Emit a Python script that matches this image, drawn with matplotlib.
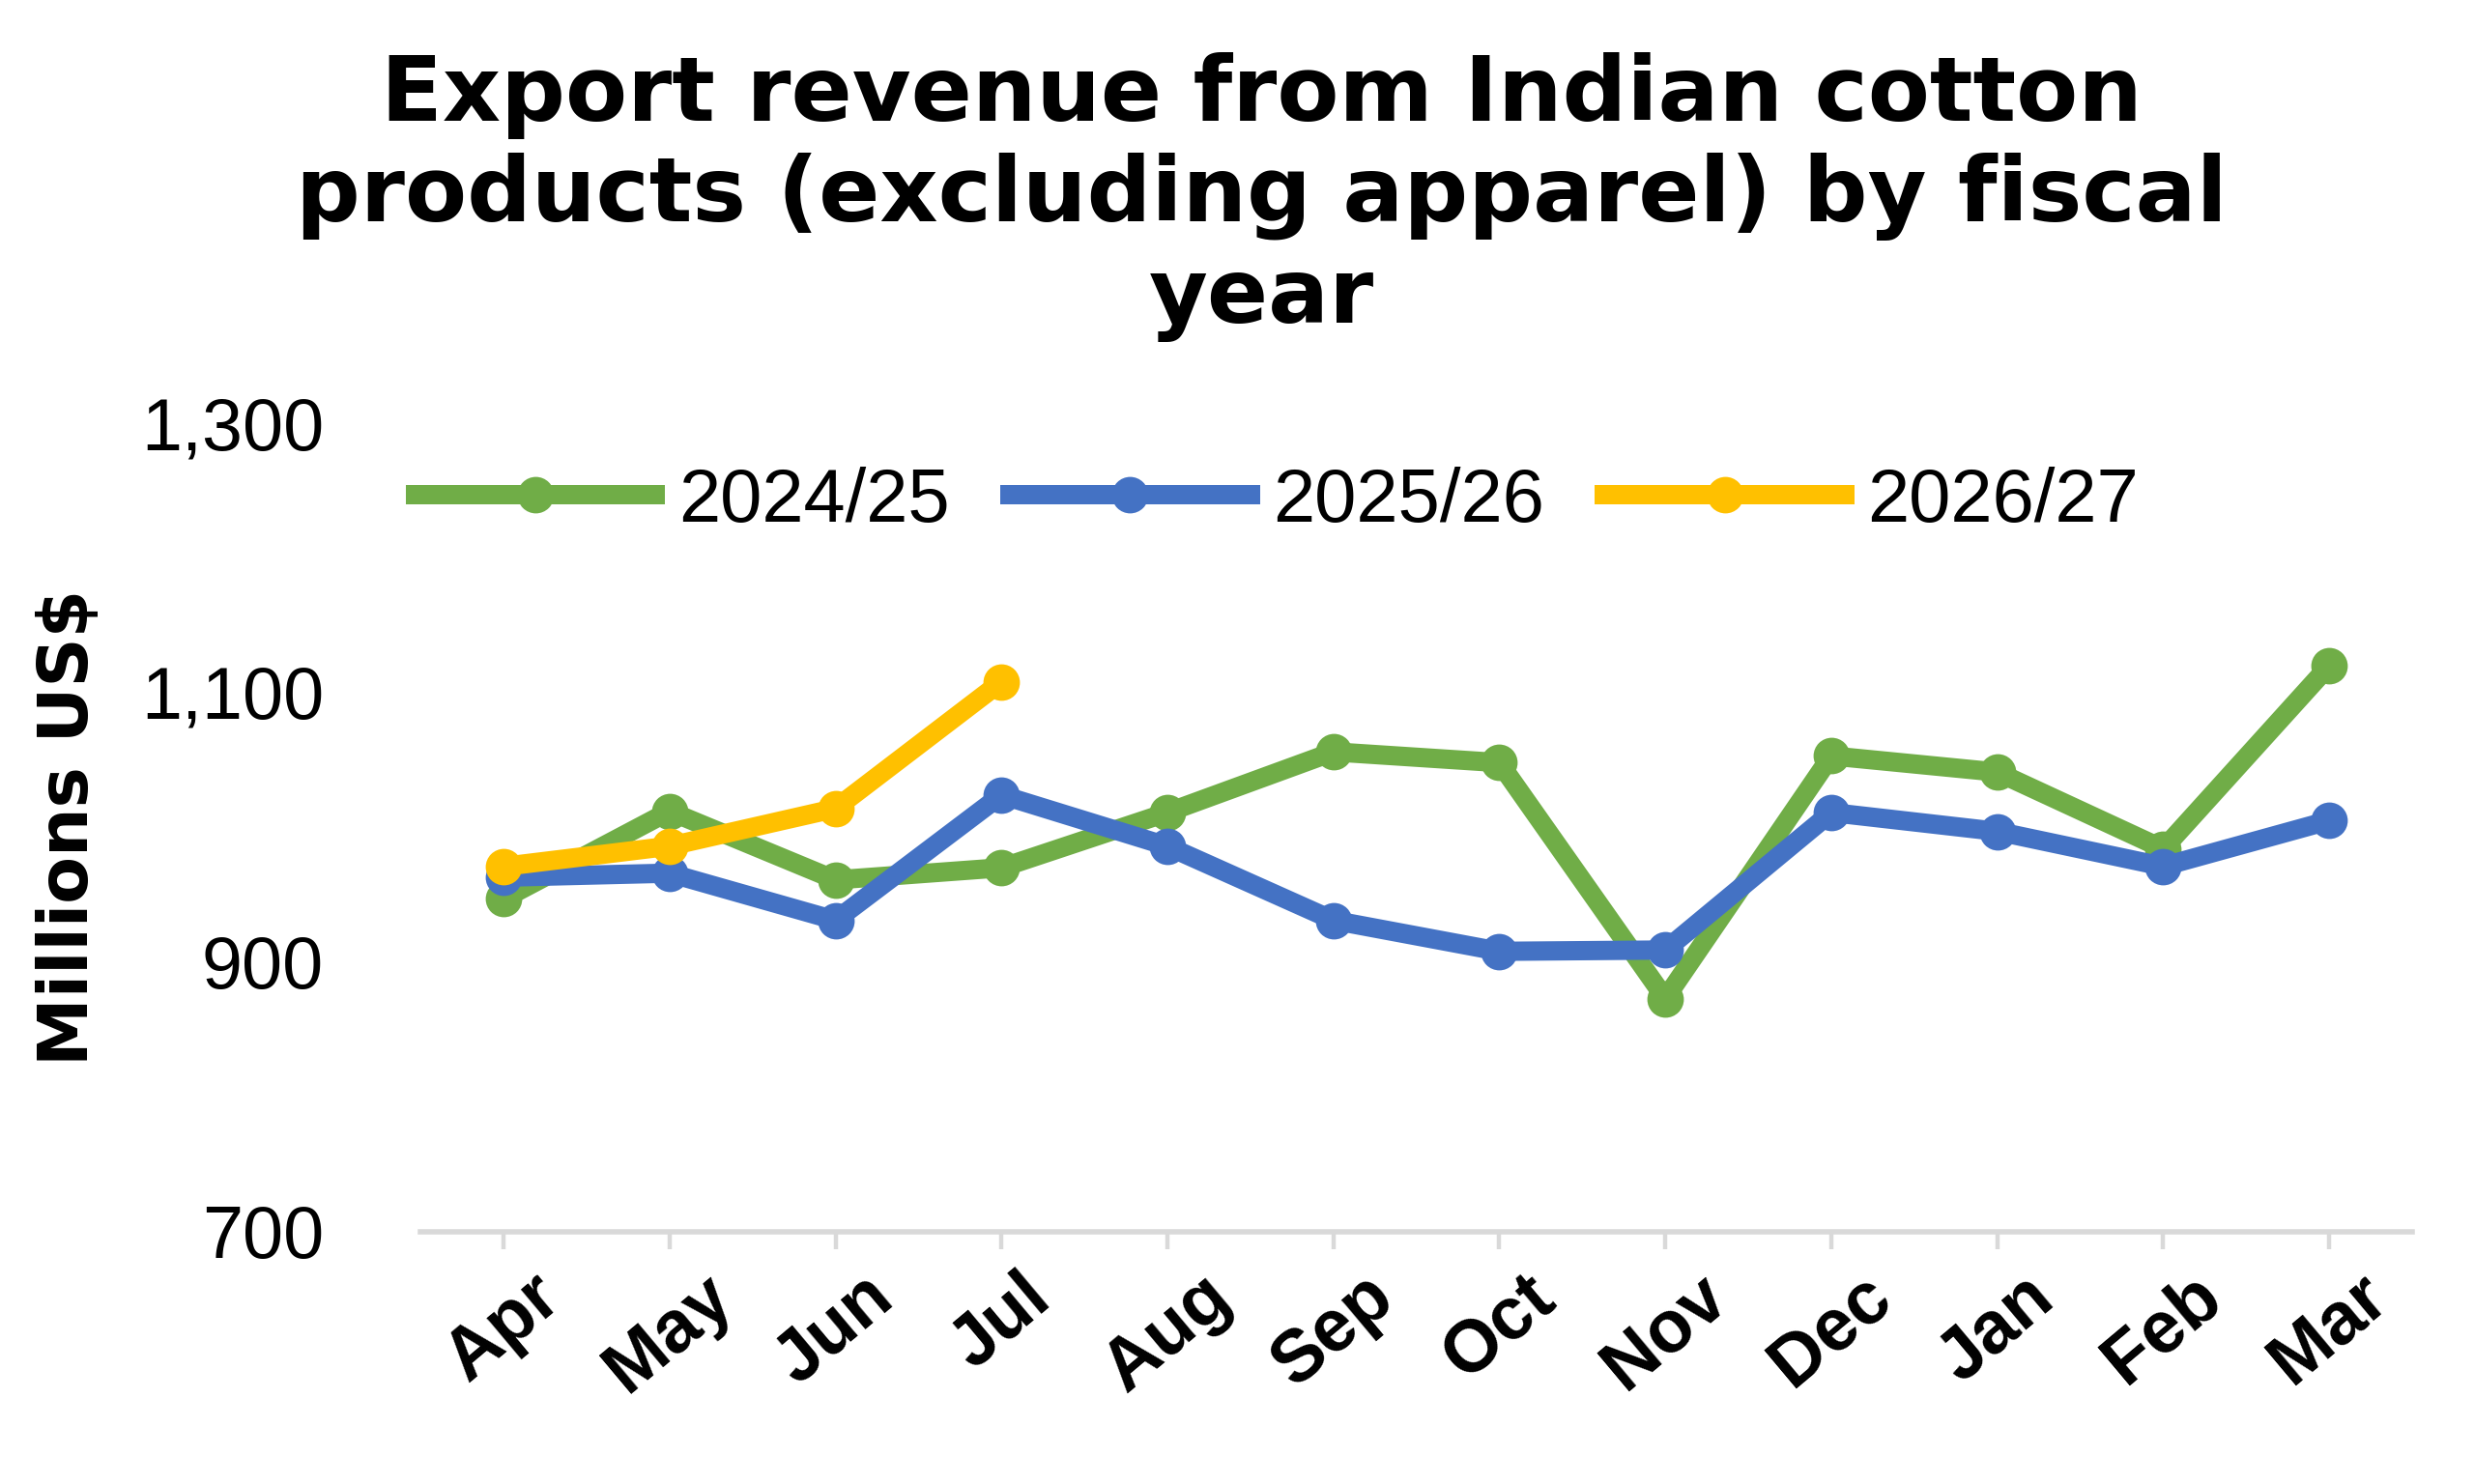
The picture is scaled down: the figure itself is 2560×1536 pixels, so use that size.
import matplotlib.pyplot as plt

months = ["Apr", "May", "Jun", "Jul", "Aug", "Sep", "Oct", "Nov", "Dec", "Jan", "Feb", "Mar"]
fy2425 = [947, 1012, 961, 970, 1011, 1056, 1048, 873, 1053, 1041, 984, 1120]
fy2526 = [963, 966, 931, 1024, 986, 931, 908, 909, 1011, 997, 971, 1005]
fy2627 = [971, 986, 1014, 1108]

fig = plt.figure(figsize=(16, 9.6), dpi=160)
ax = fig.add_axes([0.17, 0.17, 0.805, 0.545])

x = range(len(months))
ax.plot(x, fy2425, color="#70AD47", lw=9, marker="o", ms=16, label="2024/25")
ax.plot(x, fy2526, color="#4472C4", lw=9, marker="o", ms=16, label="2025/26")
ax.plot(range(len(fy2627)), fy2627, color="#FFC000", lw=9, marker="o", ms=16, label="2026/27")

ax.set_ylim(700, 1300)
ax.set_yticks([700, 900, 1100, 1300])
ax.set_yticklabels(["700", "900", "1,100", "1,300"], fontsize=34, family="Liberation Sans")
ax.set_xlim(-0.5, 11.5)
ax.set_xticks(list(x))
ax.set_xticklabels(months, rotation=40, fontsize=34, fontweight="bold", family="Liberation Sans")
ax.tick_params(axis="y", length=0, pad=45)
ax.tick_params(axis="x", length=8, color="#D9D9D9", width=2, pad=6)
for s in ["top", "right", "left"]:
    ax.spines[s].set_visible(False)
ax.spines["bottom"].set_color("#D9D9D9")
ax.spines["bottom"].set_linewidth(2.5)
ax.set_ylabel("Millions US$", fontsize=32, fontweight="bold", labelpad=18)

ax.legend(loc="upper center", bbox_to_anchor=(0.43, 1.03), ncol=3, frameon=False,
          prop={"family": "Liberation Sans", "size": 35}, handlelength=3.2, columnspacing=0.8, handletextpad=0.3)

fig.suptitle("Export revenue from Indian cotton\nproducts (excluding apparel) by fiscal\nyear",
             x=0.51, y=0.965, fontsize=42, fontweight="heavy", linespacing=1.2)

fig.savefig("out.png")
